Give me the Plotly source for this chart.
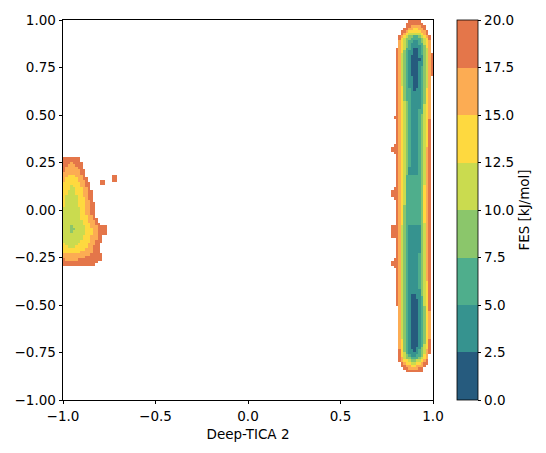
import numpy as np
import plotly.graph_objects as go

# ---- contour levels and colours (FES in kJ/mol) ----
levels = [0.0, 2.5, 5.0, 7.5, 10.0, 12.5, 15.0, 17.5, 20.0]
level_colors = ["#265b7e", "#36938f", "#4fae8c", "#8bc66b",
                "#cadb4f", "#fed93f", "#fcac53", "#e4764a"]

x_ticks = [-1.0, -0.5, 0.0, 0.5, 1.0]
y_ticks = [-1.0, -0.75, -0.5, -0.25, 0.0, 0.25, 0.5, 0.75, 1.0]

# ---- right basin: minimum FES along the ridge (vs y) ----
right_y = [-0.90, -0.875, -0.86, -0.84, -0.823, -0.808, -0.795, -0.785, -0.777, -0.75,
           -0.70, -0.65, -0.55, -0.45, -0.35, -0.20, -0.08, 0.05, 0.18, 0.35, 0.50,
           0.625, 0.72, 0.80, 0.86, 0.896, 0.917, 0.927, 0.938, 0.955, 0.974, 1.0]
right_min_fes = [26, 21, 20, 17.5, 15, 12.5, 10, 7.5, 5, 2.5,
                 0.8, 0.2, 0.6, 2.4, 3.0, 3.8, 5.0, 6.5, 5.0, 4.3, 3.5,
                 2.5, 1.2, 0.8, 2.5, 5, 7.5, 10, 12.5, 15, 17.5, 19.2]
# half-widths of the 20 kJ/mol contour, left and right of the ridge
right_w_y = [-0.90, -0.875, -0.86, -0.84, -0.82, -0.80, -0.78, -0.65, -0.3, 0.0,
             0.3, 0.6, 0.8, 0.9, 0.94, 0.97, 1.0]
right_w_left = [0.01, 0.03, 0.04, 0.05, 0.065, 0.075, 0.082, 0.088, 0.095, 0.097,
                0.097, 0.10, 0.104, 0.095, 0.075, 0.055, 0.035]
right_w_right = [0.01, 0.03, 0.04, 0.05, 0.065, 0.075, 0.082, 0.092, 0.086, 0.084,
                 0.085, 0.087, 0.088, 0.082, 0.065, 0.05, 0.03]
right_center_y = [-0.85, -0.65, 0.0, 0.8, 0.95]
right_center_x = [0.895, 0.898, 0.896, 0.907, 0.905]
# wall shape: flat core half-width and wall exponent
right_shape_y = [-0.9, -0.6, -0.3, 0.0, 0.3, 0.6, 1.0]
right_core = [0.0, 0.004, 0.02, 0.038, 0.02, 0.004, 0.0]
right_power = [1.6, 1.55, 1.1, 0.85, 1.1, 1.5, 1.6]

# ---- left basin ----
left_y = [-0.31, -0.29, -0.26, -0.23, -0.20, -0.16, -0.13, -0.10, -0.07, -0.03,
          0.05, 0.135, 0.19, 0.25, 0.27, 0.29]
left_min_fes = [23, 19.8, 17.3, 14.9, 12.3, 11.0, 10.1, 9.8, 10.1, 10.5,
                11.2, 12.5, 15, 17.5, 19.2, 22]
left_halfwidth = [0.12, 0.12, 0.16, 0.16, 0.15, 0.163, 0.17, 0.17, 0.15, 0.13,
                  0.118, 0.10, 0.075, 0.057, 0.045, 0.03]
left_center_x = -0.953
left_power = 1.55

# ---- small high-energy patches at basin edges (x, y, rx, ry) ----
patch_x = [0.79, 0.795, 0.79, 0.795, 0.805, -0.788, -0.72, -0.775]
patch_y = [0.32, 0.085, -0.115, -0.28, 0.49, 0.147, 0.170, -0.105]
patch_rx = [0.018, 0.018, 0.02, 0.018, 0.012, 0.010, 0.017, 0.022]
patch_ry = [0.022, 0.03, 0.035, 0.03, 0.02, 0.014, 0.020, 0.028]
patch_fes = 19.0

n = 150
h = 2.0 / n
xs = -1 + h / 2 + h * np.arange(n)
ys = -1 + h / 2 + h * np.arange(n)
X, Y = np.meshgrid(xs, ys)


def wall(g, d, w, core, p):
    t = np.clip((np.abs(d) - core) / np.maximum(w - core, 1e-6), 0, None)
    f = g + (20 - g) * t ** p
    return np.where(g >= 20, 40, f)


# right basin
g = np.interp(Y, right_y, right_min_fes, left=40, right=40)
xc = np.interp(Y, right_center_y, right_center_x)
d = X - xc
w = np.where(d < 0, np.interp(Y, right_w_y, right_w_left),
             np.interp(Y, right_w_y, right_w_right))
core = np.interp(Y, right_shape_y, right_core)
pw = np.interp(Y, right_shape_y, right_power)
F_right = wall(g, d, w, core, pw)

# left basin
gl = np.interp(Y, left_y, left_min_fes, left=40, right=40)
wl = np.interp(Y, left_y, left_halfwidth)
F_left = wall(gl, X - left_center_x, wl, 0.0, left_power)

F = np.minimum(F_right, F_left)
for px_, py_, rx_, ry_ in zip(patch_x, patch_y, patch_rx, patch_ry):
    inside = ((X - px_) / rx_) ** 2 + ((Y - py_) / ry_) ** 2 <= 1
    F = np.where(inside, np.minimum(F, patch_fes), F)

Z = np.where(F < 20, F, np.nan)

# stepped colourscale
cs = []
for i, c in enumerate(level_colors):
    cs.append([i / len(level_colors), c])
    cs.append([(i + 1) / len(level_colors), c])

font = dict(family="DejaVu Sans", size=13.5, color="black")


def fmt(v, nd):
    s = f"{v:.{nd}f}"
    return s.replace("-", "\u2212")


fig = go.Figure(go.Heatmap(
    x=xs, y=ys, z=Z, colorscale=cs, zmin=0, zmax=20, zsmooth=False,
    hoverongaps=False,
    colorbar=dict(
        thickness=21, len=1, lenmode="fraction", y=0.5, yanchor="middle",
        x=(457 - 63) / 370, xanchor="left", xpad=0, ypad=0,
        outlinewidth=0.8, outlinecolor="black",
        tickmode="array", tickvals=levels, ticktext=[fmt(v, 1) for v in levels],
        ticks="outside", ticklen=3.5, tickwidth=0.8, tickcolor="black",
        tickfont=font,
        title=dict(text="FES [kJ/mol]", side="right", font=font),
    ),
))

axis_common = dict(showline=True, linecolor="black", linewidth=0.8, mirror=True,
                   ticks="outside", ticklen=3.5, tickwidth=0.8, tickcolor="black",
                   showgrid=False, zeroline=False, tickfont=font)

fig.update_layout(
    width=546, height=453,
    margin=dict(l=63, r=113, t=15, b=53),
    paper_bgcolor="white", plot_bgcolor="white",
    xaxis=dict(range=[-1, 1], tickmode="array", tickvals=x_ticks,
               ticktext=[fmt(v, 1) for v in x_ticks],
               title=dict(text="Deep-TICA 2", font=font, standoff=6), **axis_common),
    yaxis=dict(range=[-1, 1], tickmode="array", tickvals=y_ticks,
               ticktext=[fmt(v, 2) for v in y_ticks], **axis_common),
)

fig.write_html("out.html")
